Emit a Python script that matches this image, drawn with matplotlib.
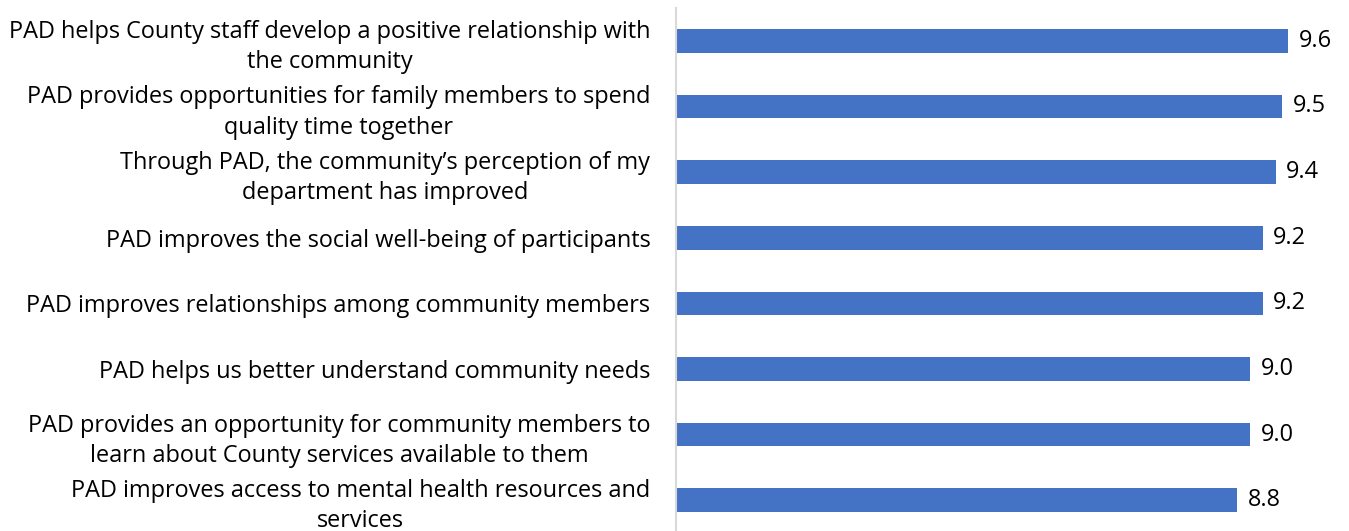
import matplotlib
matplotlib.use("Agg")
import matplotlib.pyplot as plt

# Survey statements (top to bottom) and average ratings
statements = [
    "PAD helps County staff develop a positive relationship with\nthe community",
    "PAD provides opportunities for family members to spend\nquality time together",
    "Through PAD, the community\u2019s perception of my\ndepartment has improved",
    "PAD improves the social well-being of participants",
    "PAD improves relationships among community members",
    "PAD helps us better understand community needs",
    "PAD provides an opportunity for community members to\nlearn about County services available to them",
    "PAD improves access to mental health resources and\nservices",
]
ratings = [9.6, 9.5, 9.4, 9.2, 9.2, 9.0, 9.0, 8.8]

W, H = 1349, 531
fig = plt.figure(figsize=(W / 100, H / 100), dpi=100)
ax = fig.add_axes([676 / W, -2 / H, 673 / W, 525 / H])

font = "Open Sans"
fs = 16.9
bar_color = "#4472C4"

positions = list(range(len(ratings)))
bars = ax.barh(positions, ratings, height=0.36, color=bar_color)
ax.set_xlim(0, 10.55)
ax.set_ylim(len(ratings) - 0.5, -0.5)

ax.bar_label(bars, labels=[f"{v:.1f}" for v in ratings], padding=7.5,
             fontsize=fs, family=font, color="#000000")

ax.set_yticks(positions)
ax.set_yticklabels(statements, fontsize=fs, family=font, linespacing=1.35,
                   ha="right", ma="center")
ax.tick_params(axis="y", length=0, pad=18.5)
ax.set_xticks([])

for side in ["top", "right", "bottom"]:
    ax.spines[side].set_visible(False)
ax.spines["left"].set_color("#D9D9D9")
ax.spines["left"].set_linewidth(1.5)

fig.savefig("out.png", dpi=100)
